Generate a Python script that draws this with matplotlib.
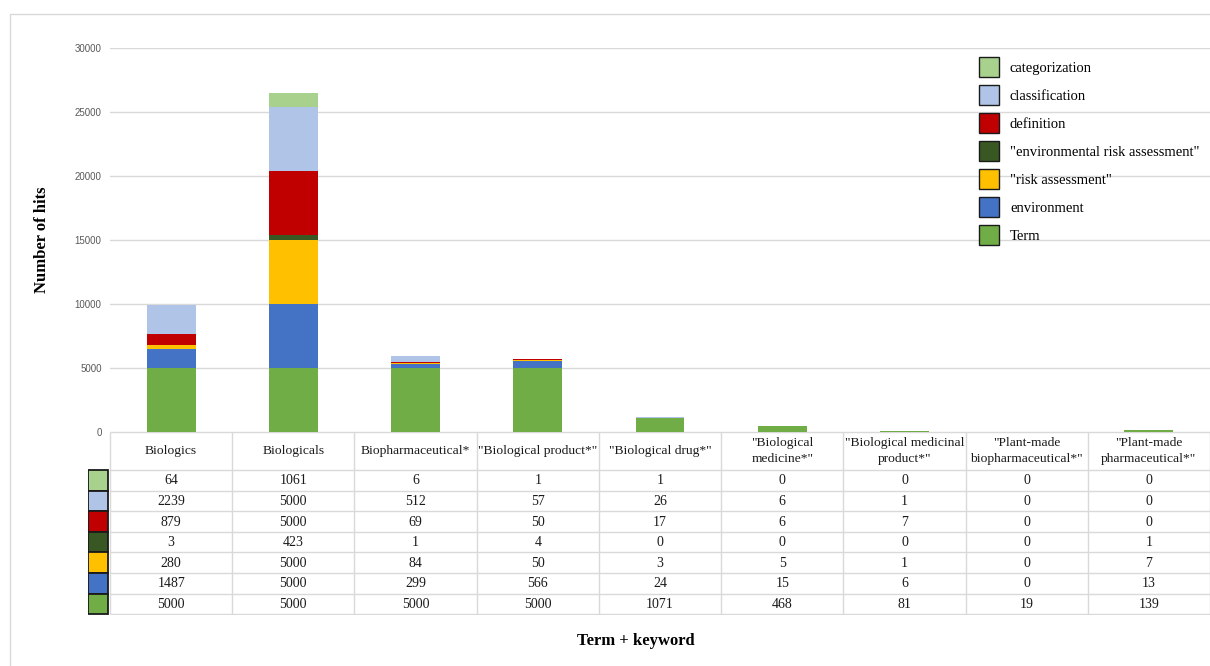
import numpy as np
import matplotlib.pyplot as plt
from matplotlib.patches import Patch, Rectangle

# search terms (columns) and keywords (stacked series / table rows)
terms = ["Biologics", "Biologicals", "Biopharmaceutical*", '"Biological product*"',
         '"Biological drug*"', '"Biological\nmedicine*"', '"Biological medicinal\nproduct*"',
         '"Plant-made\nbiopharmaceutical*"', '"Plant-made\npharmaceutical*"']
keywords = ["categorization", "classification", "definition",
            '"environmental risk assessment"', '"risk assessment"', "environment", "Term"]
colors = ["#A9D18E", "#AFC4E6", "#C00000", "#385723", "#FFC000", "#4472C4", "#70AD47"]

categorization = [64, 1061, 6, 1, 1, 0, 0, 0, 0]
classification = [2239, 5000, 512, 57, 26, 6, 1, 0, 0]
definition = [879, 5000, 69, 50, 17, 6, 7, 0, 0]
env_risk = [3, 423, 1, 4, 0, 0, 0, 0, 1]
risk = [280, 5000, 84, 50, 3, 5, 1, 0, 7]
environment = [1487, 5000, 299, 566, 24, 15, 6, 0, 13]
term = [5000, 5000, 5000, 5000, 1071, 468, 81, 19, 139]

series = [categorization, classification, definition, env_risk, risk, environment, term]

W, H = 1210, 666
serif = "Liberation Serif"
grid_c = "#d9d9d9"

fig = plt.figure(figsize=(W / 100, H / 100), dpi=100)
fig.patch.set_facecolor("white")
ax = fig.add_axes([110 / W, 1 - 432 / H, 1100 / W, 384 / H])

# stacked bars, Term at the bottom
x = np.arange(len(terms))
bottom = np.zeros(len(terms))
for vals, c in zip(series[::-1], colors[::-1]):
    ax.bar(x, vals, 0.4, bottom=bottom, color=c, zorder=2)
    bottom += np.array(vals)

ax.set_xlim(-0.5, len(terms) - 0.5)
ax.set_ylim(0, 30000)
ax.set_yticks(range(0, 30001, 5000))
ax.set_xticks([])
ax.tick_params(axis="y", length=0, pad=6, labelsize=7, labelcolor="#595959")
for lab in ax.get_yticklabels():
    lab.set_fontfamily("Liberation Sans")
ax.grid(axis="y", color=grid_c, lw=1)
ax.set_axisbelow(True)
for s in ax.spines.values():
    s.set_visible(False)

# data table under the bars, laid out in pixel units
left, right, top = 110, 1210, 432
head_h, row_h, key_w = 38, 20.6, 20
col_w = (right - left) / len(terms)
bot = top + head_h + row_h * len(series)

tax = fig.add_axes([88 / W, 1 - (bot + 1) / H, (right - 88) / W, (bot + 1 - top) / H])
tax.set_xlim(88, right)
tax.set_ylim(bot + 1, top)
tax.axis("off")

line_ys = [top, top + head_h] + [top + head_h + row_h * (i + 1) for i in range(len(series))]
for y in line_ys:
    tax.plot([left, right], [y, y], color=grid_c, lw=1, solid_capstyle="butt")
for j in range(len(terms) + 1):
    xx = left + col_w * j
    tax.plot([xx, xx], [top, bot], color=grid_c, lw=1, solid_capstyle="butt")

for j, name in enumerate(terms):
    tax.text(left + col_w * (j + 0.5), top + head_h / 2, name, ha="center", va="center",
             fontfamily=serif, fontsize=9.7, color="#1a1a1a", linespacing=1.45)

for i, (row, c) in enumerate(zip(series, colors)):
    y0 = top + head_h + row_h * i
    tax.add_patch(Rectangle((88, y0), key_w, row_h, facecolor=c,
                            edgecolor="#1a1a1a", lw=1.3))
    for j, v in enumerate(row):
        tax.text(left + col_w * (j + 0.5), y0 + row_h / 2 + 0.5, str(v), ha="center",
                 va="center", fontfamily=serif, fontsize=10, color="#1a1a1a")

handles = [Patch(facecolor=c, edgecolor="#1a1a1a", linewidth=1) for c in colors]
fig.legend(handles, keywords, loc="upper left", bbox_to_anchor=(979 / W, 1 - 57 / H),
           frameon=False, prop={"family": serif, "size": 10.5},
           handlelength=1.37, handleheight=1.73, labelspacing=0.55,
           handletextpad=0.75, borderpad=0, borderaxespad=0)

fig.text(42 / W, 1 - 240 / H, "Number of hits", rotation=90, ha="center", va="center",
         fontfamily=serif, fontweight="bold", fontsize=12)
fig.text(636 / W, 1 - 641 / H, "Term + keyword", ha="center", va="center",
         fontfamily=serif, fontweight="bold", fontsize=12)

# light frame around the chart area
fig.add_artist(Rectangle((10 / W, -0.1), 1.2, 1.1 - 14 / H, transform=fig.transFigure,
                         fill=False, edgecolor=grid_c, lw=1))

fig.savefig("out.png", dpi=100)
